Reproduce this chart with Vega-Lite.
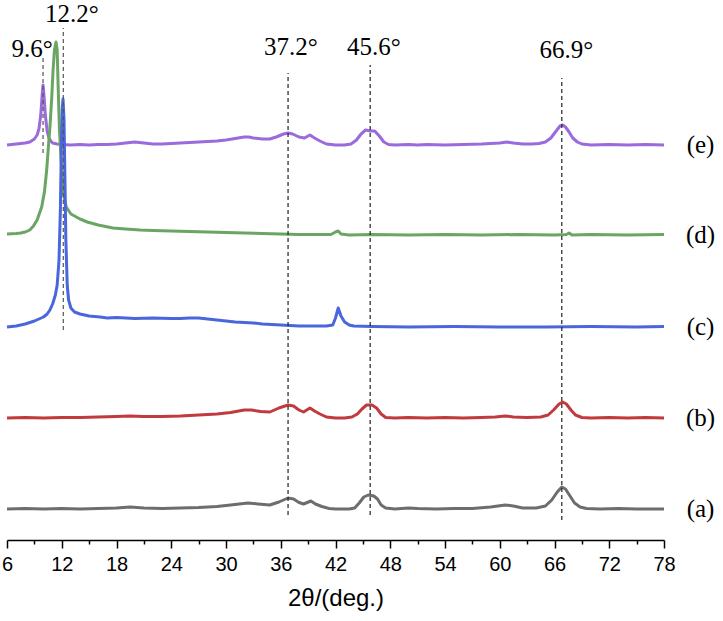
{
  "$schema": "https://vega.github.io/schema/vega-lite/v6.json",
  "width": 657,
  "height": 540,
  "autosize": {"type": "none"},
  "padding": {"left": 7, "top": 0, "right": 59, "bottom": 81},
  "background": "white",
  "config": {"view": {"stroke": null}},
  "datasets": {
    "curves": [
      {"s":"e","x":6,"y":395},{"s":"e","x":7,"y":396},{"s":"e","x":8,"y":397},{"s":"e","x":8.5,"y":398},{"s":"e","x":9,"y":401},{"s":"e","x":9.3,"y":405},{"s":"e","x":9.5,"y":411},{"s":"e","x":9.7,"y":425},{"s":"e","x":9.85,"y":445},{"s":"e","x":9.95,"y":455},{"s":"e","x":10.05,"y":445},{"s":"e","x":10.2,"y":425},{"s":"e","x":10.4,"y":409},{"s":"e","x":10.6,"y":402},{"s":"e","x":10.8,"y":399},{"s":"e","x":11,"y":397},{"s":"e","x":11.5,"y":396},{"s":"e","x":12,"y":395.5},{"s":"e","x":13,"y":395},{"s":"e","x":14,"y":395.5},{"s":"e","x":15,"y":395},{"s":"e","x":16,"y":395.5},{"s":"e","x":17,"y":395.5},{"s":"e","x":18,"y":396},{"s":"e","x":19,"y":397},{"s":"e","x":20,"y":398},{"s":"e","x":21,"y":397},{"s":"e","x":22,"y":396},{"s":"e","x":23,"y":396},{"s":"e","x":24,"y":396.5},{"s":"e","x":25,"y":397},{"s":"e","x":26,"y":397.5},{"s":"e","x":27,"y":398},{"s":"e","x":28,"y":398.5},{"s":"e","x":29,"y":399},{"s":"e","x":30,"y":400},{"s":"e","x":31,"y":401.5},{"s":"e","x":32,"y":403},{"s":"e","x":32.5,"y":403},{"s":"e","x":33,"y":402},{"s":"e","x":34,"y":401},{"s":"e","x":34.8,"y":401},{"s":"e","x":35.5,"y":403},{"s":"e","x":36.3,"y":406},{"s":"e","x":36.8,"y":407},{"s":"e","x":37.3,"y":406},{"s":"e","x":38,"y":403},{"s":"e","x":38.6,"y":402},{"s":"e","x":39.2,"y":405},{"s":"e","x":39.7,"y":402},{"s":"e","x":40.3,"y":399},{"s":"e","x":41,"y":396},{"s":"e","x":42,"y":395},{"s":"e","x":43,"y":395},{"s":"e","x":43.7,"y":396},{"s":"e","x":44.3,"y":400},{"s":"e","x":44.8,"y":406},{"s":"e","x":45.3,"y":410},{"s":"e","x":45.8,"y":409},{"s":"e","x":46.3,"y":409},{"s":"e","x":46.8,"y":404},{"s":"e","x":47.3,"y":398},{"s":"e","x":47.8,"y":395.5},{"s":"e","x":48.5,"y":395},{"s":"e","x":50,"y":395.5},{"s":"e","x":51,"y":395},{"s":"e","x":52,"y":395.5},{"s":"e","x":54,"y":395},{"s":"e","x":56,"y":395.5},{"s":"e","x":58,"y":396},{"s":"e","x":59,"y":396.5},{"s":"e","x":60,"y":397},{"s":"e","x":60.8,"y":398},{"s":"e","x":61.5,"y":397},{"s":"e","x":62.5,"y":396},{"s":"e","x":63.5,"y":396},{"s":"e","x":64.3,"y":396.5},{"s":"e","x":65,"y":398},{"s":"e","x":65.6,"y":402},{"s":"e","x":66.1,"y":408},{"s":"e","x":66.6,"y":414},{"s":"e","x":66.9,"y":415},{"s":"e","x":67.2,"y":413},{"s":"e","x":67.6,"y":408},{"s":"e","x":68,"y":402},{"s":"e","x":68.5,"y":398},{"s":"e","x":69,"y":396},{"s":"e","x":70,"y":395},{"s":"e","x":72,"y":395.5},{"s":"e","x":74,"y":395},{"s":"e","x":76,"y":395.5},{"s":"e","x":78,"y":395},

      {"s":"d","x":6,"y":306},{"s":"d","x":7,"y":306.5},{"s":"d","x":7.5,"y":307},{"s":"d","x":8,"y":308},{"s":"d","x":8.5,"y":310},{"s":"d","x":8.9,"y":314},{"s":"d","x":9.3,"y":320},{"s":"d","x":9.8,"y":333},{"s":"d","x":10.1,"y":348},{"s":"d","x":10.35,"y":370},{"s":"d","x":10.55,"y":395},{"s":"d","x":10.7,"y":412},{"s":"d","x":10.9,"y":442},{"s":"d","x":11.05,"y":470},{"s":"d","x":11.2,"y":490},{"s":"d","x":11.37,"y":498},{"s":"d","x":11.5,"y":490},{"s":"d","x":11.6,"y":455},{"s":"d","x":11.75,"y":410},{"s":"d","x":11.9,"y":385},{"s":"d","x":12,"y":370},{"s":"d","x":12.2,"y":345},{"s":"d","x":12.5,"y":333},{"s":"d","x":13,"y":326},{"s":"d","x":14,"y":321},{"s":"d","x":14.8,"y":318},{"s":"d","x":16,"y":315},{"s":"d","x":17.6,"y":312},{"s":"d","x":19,"y":311},{"s":"d","x":20.6,"y":310},{"s":"d","x":22,"y":309.5},{"s":"d","x":24,"y":309},{"s":"d","x":26,"y":308.5},{"s":"d","x":28,"y":308},{"s":"d","x":30,"y":307.5},{"s":"d","x":32,"y":307},{"s":"d","x":34,"y":306.5},{"s":"d","x":36,"y":306},{"s":"d","x":38,"y":305.5},{"s":"d","x":40,"y":305.5},{"s":"d","x":41.5,"y":305.5},{"s":"d","x":42,"y":308},{"s":"d","x":42.3,"y":309},{"s":"d","x":42.6,"y":306},{"s":"d","x":43.5,"y":305},{"s":"d","x":46,"y":305.5},{"s":"d","x":50,"y":305},{"s":"d","x":54,"y":305.5},{"s":"d","x":58,"y":305},{"s":"d","x":62,"y":305.5},{"s":"d","x":66,"y":305},{"s":"d","x":67.3,"y":305.5},{"s":"d","x":67.6,"y":307},{"s":"d","x":67.9,"y":305},{"s":"d","x":70,"y":305.5},{"s":"d","x":74,"y":305},{"s":"d","x":78,"y":305.5},

      {"s":"c","x":6,"y":213},{"s":"c","x":7,"y":214},{"s":"c","x":7.5,"y":215},{"s":"c","x":8,"y":216},{"s":"c","x":8.5,"y":217.5},{"s":"c","x":9,"y":219},{"s":"c","x":9.5,"y":221},{"s":"c","x":10,"y":223},{"s":"c","x":10.4,"y":226},{"s":"c","x":10.7,"y":230},{"s":"c","x":11,"y":236},{"s":"c","x":11.3,"y":245},{"s":"c","x":11.5,"y":255},{"s":"c","x":11.7,"y":280},{"s":"c","x":11.85,"y":330},{"s":"c","x":11.95,"y":390},{"s":"c","x":12.05,"y":430},{"s":"c","x":12.14,"y":441},{"s":"c","x":12.25,"y":420},{"s":"c","x":12.35,"y":360},{"s":"c","x":12.45,"y":300},{"s":"c","x":12.6,"y":255},{"s":"c","x":12.75,"y":240},{"s":"c","x":13,"y":232},{"s":"c","x":13.4,"y":228},{"s":"c","x":14,"y":226},{"s":"c","x":15,"y":224},{"s":"c","x":16.2,"y":223},{"s":"c","x":17,"y":222},{"s":"c","x":18,"y":222.5},{"s":"c","x":19,"y":222},{"s":"c","x":20,"y":221.5},{"s":"c","x":22,"y":222},{"s":"c","x":24,"y":221.5},{"s":"c","x":25,"y":221.5},{"s":"c","x":26,"y":222},{"s":"c","x":27,"y":222},{"s":"c","x":28,"y":221},{"s":"c","x":29,"y":220},{"s":"c","x":30,"y":219},{"s":"c","x":31,"y":218},{"s":"c","x":32,"y":217.5},{"s":"c","x":33,"y":217},{"s":"c","x":34,"y":216},{"s":"c","x":35,"y":215.5},{"s":"c","x":36,"y":215},{"s":"c","x":37,"y":214.5},{"s":"c","x":38,"y":214},{"s":"c","x":39,"y":214},{"s":"c","x":40,"y":214},{"s":"c","x":41,"y":214},{"s":"c","x":41.7,"y":215},{"s":"c","x":42,"y":222},{"s":"c","x":42.3,"y":232},{"s":"c","x":42.6,"y":224},{"s":"c","x":43,"y":218},{"s":"c","x":43.5,"y":215},{"s":"c","x":44,"y":214},{"s":"c","x":46,"y":213.5},{"s":"c","x":50,"y":213},{"s":"c","x":55,"y":213.5},{"s":"c","x":60,"y":213},{"s":"c","x":65,"y":213},{"s":"c","x":70,"y":213.5},{"s":"c","x":75,"y":213},{"s":"c","x":78,"y":213.5},

      {"s":"b","x":6,"y":122},{"s":"b","x":8,"y":122.5},{"s":"b","x":10,"y":122},{"s":"b","x":12,"y":122.5},{"s":"b","x":14,"y":122.5},{"s":"b","x":16,"y":123},{"s":"b","x":18,"y":123.5},{"s":"b","x":19.5,"y":124},{"s":"b","x":21,"y":123.5},{"s":"b","x":23,"y":123.5},{"s":"b","x":25,"y":124},{"s":"b","x":27,"y":125},{"s":"b","x":29,"y":126},{"s":"b","x":30.5,"y":127.5},{"s":"b","x":32,"y":130},{"s":"b","x":32.8,"y":130},{"s":"b","x":33.8,"y":128.5},{"s":"b","x":34.8,"y":128},{"s":"b","x":35.8,"y":132},{"s":"b","x":36.8,"y":135},{"s":"b","x":37.4,"y":134},{"s":"b","x":38,"y":130},{"s":"b","x":38.5,"y":128},{"s":"b","x":39.2,"y":132},{"s":"b","x":39.7,"y":129},{"s":"b","x":40.3,"y":126},{"s":"b","x":41,"y":123},{"s":"b","x":42,"y":122},{"s":"b","x":43,"y":122},{"s":"b","x":43.8,"y":123},{"s":"b","x":44.4,"y":126},{"s":"b","x":44.9,"y":131},{"s":"b","x":45.4,"y":135},{"s":"b","x":46,"y":135},{"s":"b","x":46.5,"y":132},{"s":"b","x":47,"y":126},{"s":"b","x":47.5,"y":122.5},{"s":"b","x":48.5,"y":122},{"s":"b","x":50,"y":122.5},{"s":"b","x":52,"y":122},{"s":"b","x":54,"y":122.5},{"s":"b","x":56,"y":122},{"s":"b","x":58,"y":122.5},{"s":"b","x":59.5,"y":123},{"s":"b","x":60.6,"y":124},{"s":"b","x":61.5,"y":123},{"s":"b","x":63,"y":122.5},{"s":"b","x":64.5,"y":123},{"s":"b","x":65.3,"y":125},{"s":"b","x":65.9,"y":130},{"s":"b","x":66.5,"y":136},{"s":"b","x":66.9,"y":138},{"s":"b","x":67.3,"y":136},{"s":"b","x":67.8,"y":130},{"s":"b","x":68.3,"y":125},{"s":"b","x":69,"y":122.5},{"s":"b","x":70,"y":122},{"s":"b","x":72,"y":122.5},{"s":"b","x":74,"y":122},{"s":"b","x":76,"y":122.5},{"s":"b","x":78,"y":122},

      {"s":"a","x":6,"y":31},{"s":"a","x":8,"y":31.5},{"s":"a","x":10,"y":31},{"s":"a","x":12,"y":31.5},{"s":"a","x":14,"y":31},{"s":"a","x":16,"y":31.5},{"s":"a","x":18,"y":32},{"s":"a","x":19.5,"y":33},{"s":"a","x":21,"y":32},{"s":"a","x":23,"y":31.5},{"s":"a","x":25,"y":32},{"s":"a","x":27,"y":32.5},{"s":"a","x":29,"y":33.5},{"s":"a","x":30.5,"y":35},{"s":"a","x":32.4,"y":37},{"s":"a","x":33.5,"y":36},{"s":"a","x":34.8,"y":35},{"s":"a","x":35.8,"y":38},{"s":"a","x":36.8,"y":42},{"s":"a","x":37.4,"y":41},{"s":"a","x":38,"y":37.5},{"s":"a","x":38.5,"y":36},{"s":"a","x":39.3,"y":39},{"s":"a","x":39.8,"y":36},{"s":"a","x":40.5,"y":33.5},{"s":"a","x":41.3,"y":31.5},{"s":"a","x":42,"y":31},{"s":"a","x":43.5,"y":31},{"s":"a","x":44.1,"y":32},{"s":"a","x":44.6,"y":37},{"s":"a","x":45.1,"y":43},{"s":"a","x":45.6,"y":45},{"s":"a","x":46.2,"y":44},{"s":"a","x":46.6,"y":41},{"s":"a","x":47,"y":35},{"s":"a","x":47.5,"y":32},{"s":"a","x":48.5,"y":31},{"s":"a","x":50,"y":32},{"s":"a","x":51,"y":31.5},{"s":"a","x":53,"y":31},{"s":"a","x":55,"y":31.5},{"s":"a","x":57,"y":31.5},{"s":"a","x":59,"y":33},{"s":"a","x":60.6,"y":35},{"s":"a","x":61.5,"y":34},{"s":"a","x":62.5,"y":32},{"s":"a","x":64,"y":32},{"s":"a","x":65,"y":34},{"s":"a","x":65.7,"y":40},{"s":"a","x":66.3,"y":48},{"s":"a","x":66.8,"y":53},{"s":"a","x":67.2,"y":51},{"s":"a","x":67.7,"y":44},{"s":"a","x":68.2,"y":37},{"s":"a","x":68.8,"y":33},{"s":"a","x":69.5,"y":31.5},{"s":"a","x":71,"y":31},{"s":"a","x":73,"y":31.5},{"s":"a","x":75,"y":31},{"s":"a","x":78,"y":31}
    ],
    "rules": [
      {"x":9.95,"y":387,"y2":482,"k":"g"},
      {"x":12.17,"y":210,"y2":512,"k":"g"},
      {"x":36.8,"y":25,"y2":467,"k":"k"},
      {"x":45.8,"y":25,"y2":475,"k":"k"},
      {"x":66.8,"y":20,"y2":462,"k":"k"}
    ],
    "peaks": [
      {"x":8.74,"y":491,"t":"9.6°"},
      {"x":13.1,"y":526,"t":"12.2°"},
      {"x":37.1,"y":493,"t":"37.2°"},
      {"x":46.2,"y":493,"t":"45.6°"},
      {"x":67.3,"y":490,"t":"66.9°"}
    ],
    "names": [
      {"x":82,"y":395,"t":"(e)"},
      {"x":82,"y":305,"t":"(d)"},
      {"x":82,"y":213,"t":"(c)"},
      {"x":82,"y":122,"t":"(b)"},
      {"x":82,"y":31,"t":"(a)"}
    ]
  },
  "resolve": {"axis": {"x": "independent"}},
  "layer": [
    {
      "data": {"name": "curves"},
      "mark": {"type": "line", "strokeWidth": 3, "strokeJoin": "round"},
      "encoding": {
        "x": {
          "field": "x", "type": "quantitative",
          "scale": {"domain": [6, 78], "nice": false, "zero": false},
          "axis": {
            "orient": "bottom",
            "title": "2θ/(deg.)",
            "values": [6,12,18,24,30,36,42,48,54,60,66,72,78],
            "tickSize": 8,
            "grid": false,
            "labelFlush": false,
            "labelOverlap": false,
            "labelFont": "Liberation Sans, Arial, Helvetica, sans-serif",
            "labelFontSize": 20,
            "labelColor": "black",
            "labelPadding": 6,
            "tickColor": "black",
            "tickWidth": 1.5,
            "domainColor": "black",
            "domainWidth": 1.5,
            "titleFont": "Liberation Sans, Arial, Helvetica, sans-serif",
            "titleFontSize": 24,
            "titleFontWeight": "normal",
            "titleColor": "black",
            "titlePadding": 12
          }
        },
        "y": {"field": "y", "type": "quantitative", "scale": {"domain": [0, 540], "nice": false, "zero": false}, "axis": null},
        "color": {
          "field": "s", "type": "nominal",
          "scale": {"domain": ["a","b","c","d","e"], "range": ["#6d6d6d","#c03a3e","#4a66dc","#6aa564","#9a6bdc"]},
          "legend": null
        },
        "detail": {"field": "s"}
      }
    },
    {
      "data": {"name": "rules"},
      "mark": {"type": "rule", "strokeDash": [4, 3], "strokeWidth": 1.2},
      "encoding": {
        "x": {
          "field": "x", "type": "quantitative",
          "axis": {
            "orient": "bottom",
            "title": null,
            "values": [9,15,21,27,33,39,45,51,57,63,69,75],
            "labels": false,
            "domain": false,
            "grid": false,
            "tickSize": 4,
            "tickColor": "black",
            "tickWidth": 1.5
          }
        },
        "y": {"field": "y", "type": "quantitative"},
        "y2": {"field": "y2"},
        "stroke": {"field": "k", "type": "nominal", "scale": {"domain": ["g", "k"], "range": ["#555555", "#222222"]}, "legend": null}
      }
    },
    {
      "data": {"name": "peaks"},
      "mark": {"type": "text", "font": "Liberation Serif, Times New Roman, Times, serif", "fontSize": 25, "color": "black", "baseline": "middle", "align": "center"},
      "encoding": {
        "x": {"field": "x", "type": "quantitative", "axis": null},
        "y": {"field": "y", "type": "quantitative"},
        "text": {"field": "t"}
      }
    },
    {
      "data": {"name": "names"},
      "mark": {"type": "text", "font": "Liberation Serif, Times New Roman, Times, serif", "fontSize": 25, "color": "black", "baseline": "middle", "align": "center"},
      "encoding": {
        "x": {"field": "x", "type": "quantitative", "axis": null},
        "y": {"field": "y", "type": "quantitative"},
        "text": {"field": "t"}
      }
    }
  ]
}
